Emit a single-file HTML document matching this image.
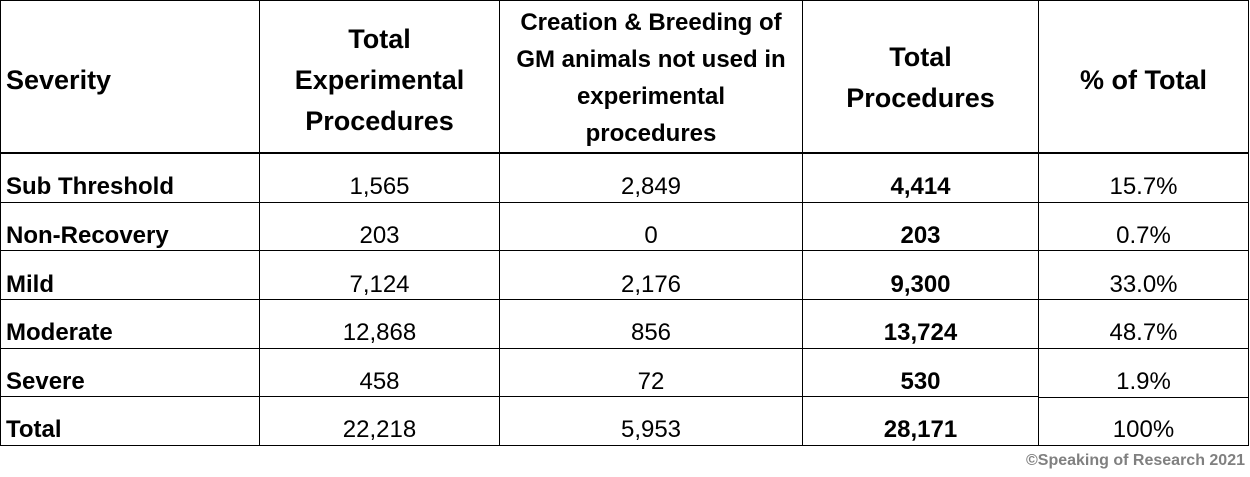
<!DOCTYPE html>
<html><head><meta charset="utf-8"><style>
body{margin:0;width:1250px;height:477px;background:#fff;position:relative;overflow:hidden;font-family:"Liberation Sans",sans-serif;color:#000}
.h{position:absolute;background:#000}
.t{position:absolute;text-align:center;white-space:nowrap}
.hd{font-weight:bold;font-size:27px;line-height:41px}
.sm{font-weight:bold;font-size:24px;line-height:37px}
.c{font-size:24px;line-height:48px}
.b{font-weight:bold}
.l{text-align:left;left:6px}
</style></head><body>
<div class="h" style="left:0;top:0;width:1249px;height:1px"></div>
<div class="h" style="left:0;top:152px;width:1249px;height:2px"></div>
<div class="h" style="left:0;top:202px;width:1249px;height:1px"></div>
<div class="h" style="left:0;top:250px;width:1249px;height:1px"></div>
<div class="h" style="left:0;top:299px;width:1249px;height:1px"></div>
<div class="h" style="left:0;top:348px;width:1249px;height:1px"></div>
<div class="h" style="left:0;top:396px;width:1038px;height:1px"></div>
<div class="h" style="left:1038px;top:397px;width:211px;height:1px"></div>
<div class="h" style="left:0;top:445px;width:1249px;height:1px"></div>
<div class="h" style="left:0;top:0;width:1px;height:446px"></div>
<div class="h" style="left:259px;top:0;width:1px;height:446px"></div>
<div class="h" style="left:499px;top:0;width:1px;height:446px"></div>
<div class="h" style="left:802px;top:0;width:1px;height:446px"></div>
<div class="h" style="left:1038px;top:0;width:1px;height:446px"></div>
<div class="h" style="left:1248px;top:0;width:1px;height:446px"></div>

<div class="t hd l" style="top:60px">Severity</div>
<div class="t hd" style="left:260px;width:239px;top:19px">Total<br>Experimental<br>Procedures</div>
<div class="t sm" style="left:500px;width:302px;top:4px">Creation &amp; Breeding of<br>GM animals not used in<br>experimental<br>procedures</div>
<div class="t hd" style="left:803px;width:235px;top:37px">Total<br>Procedures</div>
<div class="t hd" style="left:1039px;width:209px;top:60px">% of Total</div>

<div class="t c b l" style="top:163px">Sub Threshold</div>
<div class="t c b l" style="top:212px">Non-Recovery</div>
<div class="t c b l" style="top:261px">Mild</div>
<div class="t c b l" style="top:309px">Moderate</div>
<div class="t c b l" style="top:358px">Severe</div>
<div class="t c b l" style="top:406px">Total</div>

<div class="t c" style="left:260px;width:239px;top:163px">1,565</div>
<div class="t c" style="left:260px;width:239px;top:212px">203</div>
<div class="t c" style="left:260px;width:239px;top:261px">7,124</div>
<div class="t c" style="left:260px;width:239px;top:309px">12,868</div>
<div class="t c" style="left:260px;width:239px;top:358px">458</div>
<div class="t c" style="left:260px;width:239px;top:406px">22,218</div>

<div class="t c" style="left:500px;width:302px;top:163px">2,849</div>
<div class="t c" style="left:500px;width:302px;top:212px">0</div>
<div class="t c" style="left:500px;width:302px;top:261px">2,176</div>
<div class="t c" style="left:500px;width:302px;top:309px">856</div>
<div class="t c" style="left:500px;width:302px;top:358px">72</div>
<div class="t c" style="left:500px;width:302px;top:406px">5,953</div>

<div class="t c b" style="left:803px;width:235px;top:163px">4,414</div>
<div class="t c b" style="left:803px;width:235px;top:212px">203</div>
<div class="t c b" style="left:803px;width:235px;top:261px">9,300</div>
<div class="t c b" style="left:803px;width:235px;top:309px">13,724</div>
<div class="t c b" style="left:803px;width:235px;top:358px">530</div>
<div class="t c b" style="left:803px;width:235px;top:406px">28,171</div>

<div class="t c" style="left:1039px;width:209px;top:163px">15.7%</div>
<div class="t c" style="left:1039px;width:209px;top:212px">0.7%</div>
<div class="t c" style="left:1039px;width:209px;top:261px">33.0%</div>
<div class="t c" style="left:1039px;width:209px;top:309px">48.7%</div>
<div class="t c" style="left:1039px;width:209px;top:358px">1.9%</div>
<div class="t c" style="left:1039px;width:209px;top:406px">100%</div>

<div class="t" style="right:5px;top:452px;font-size:16px;font-weight:bold;color:#808080">©Speaking of Research 2021</div>
</body></html>
